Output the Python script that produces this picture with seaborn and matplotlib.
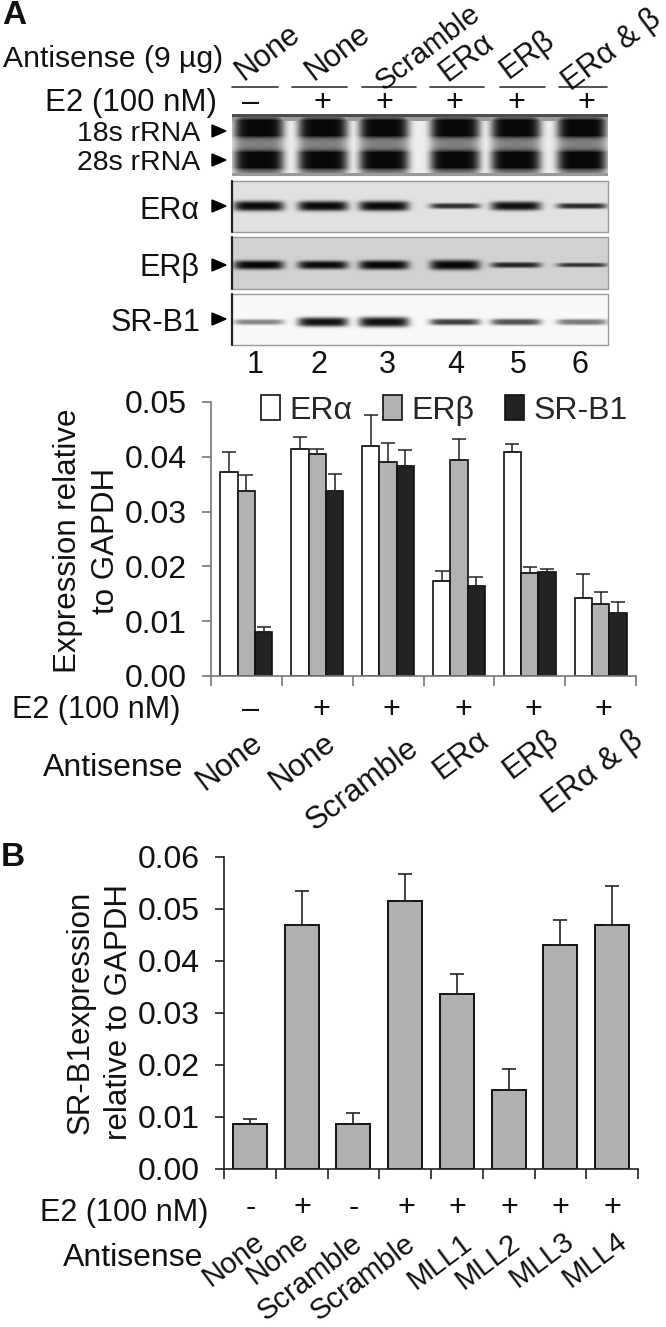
import numpy as np
import pandas as pd
import seaborn as sns
import matplotlib.pyplot as plt
from matplotlib.patches import Polygon

# Panel A values
groups_a = ['None', 'None', 'Scramble', 'ERα', 'ERβ', 'ERα & β']
e2_a = ['–', '+', '+', '+', '+', '+']
era = [0.0372, 0.0415, 0.0419, 0.0174, 0.0408, 0.0143]
era_top = [0.0408, 0.0436, 0.0476, 0.0192, 0.0423, 0.0186]
erb = [0.0338, 0.0405, 0.0390, 0.0394, 0.0188, 0.0131]
erb_top = [0.0366, 0.0415, 0.0426, 0.0433, 0.0199, 0.0153]
srb = [0.0080, 0.0338, 0.0383, 0.0164, 0.0189, 0.0115]
srb_top = [0.0090, 0.0369, 0.0412, 0.0181, 0.0196, 0.0135]

# Panel B values
groups_b = ['None', 'None', 'Scramble', 'Scramble', 'MLL1', 'MLL2', 'MLL3', 'MLL4']
e2_b = ['-', '+', '-', '+', '+', '+', '+', '+']
srb_b = [0.0086, 0.0470, 0.0086, 0.0515, 0.0337, 0.0152, 0.0430, 0.0470]
srb_b_top = [0.0097, 0.0534, 0.0107, 0.0567, 0.0375, 0.0193, 0.0479, 0.0545]

# gel band darkness and half thickness per lane
lanes = [1, 2, 3, 4, 5, 6]
era_band = [0.85, 0.85, 0.85, 0.70, 0.82, 0.72]
era_thick = [5.0, 5.0, 5.0, 2.8, 4.5, 2.8]
erb_band = [0.80, 0.78, 0.80, 0.80, 0.68, 0.62]
erb_thick = [4.5, 4.2, 4.6, 5.0, 2.8, 2.2]
srb_band = [0.45, 0.90, 0.90, 0.72, 0.65, 0.50]
srb_thick = [2.8, 4.6, 5.0, 3.2, 3.2, 3.0]

W, H = 666, 1327
sns.set_style('ticks')
plt.rcParams['font.family'] = ['Liberation Sans', 'DejaVu Sans']
fig = plt.figure(figsize=(W / 100, H / 100), dpi=100)


def px_axes(left, right, top, bottom):
    return fig.add_axes([left / W, 1 - bottom / H, (right - left) / W, (bottom - top) / H])


px = 0.72  # points per pixel at dpi 100
FS = 23

# overlay in pixel coordinates, for text and gels
ov = fig.add_axes([0, 0, 1, 1], zorder=5)
ov.set_xlim(0, W)
ov.set_ylim(H, 0)
ov.axis('off')
ov.patch.set_alpha(0)

colors = {'ERα': '#ffffff', 'ERβ': '#b2b2b2', 'SR-B1': '#232323'}
df_a = pd.DataFrame({
    'group': list(range(6)) * 3,
    'target': ['ERα'] * 6 + ['ERβ'] * 6 + ['SR-B1'] * 6,
    'value': era + erb + srb,
})

ax_a = px_axes(211, 636, 402, 676)
sns.barplot(data=df_a, x='group', y='value', hue='target', palette=colors, width=0.735, gap=0,
            edgecolor='#111111', linewidth=1.2, saturation=1, legend=False, ax=ax_a)
tops = [era_top, erb_top, srb_top]
for cont, top in zip(ax_a.containers, tops):
    for bar, t in zip(cont, top):
        v = bar.get_height()
        ax_a.errorbar(bar.get_x() + bar.get_width() / 2, v, yerr=[[0], [t - v]], color='#222222',
                      elinewidth=1.1, capsize=5.5 * px * 1.3, capthick=1.1, zorder=1, clip_on=False)
ax_a.set_ylim(0, 0.05)
ax_a.set_yticks([0, 0.01, 0.02, 0.03, 0.04, 0.05])
ax_a.set_yticklabels(['0.00', '0.01', '0.02', '0.03', '0.04', '0.05'], fontsize=FS)

ax_b = px_axes(224, 638, 857, 1169)
df_b = pd.DataFrame({'group': list(range(8)), 'value': srb_b})
sns.barplot(data=df_b, x='group', y='value', color='#b0b0b0', width=0.66, edgecolor='#111111',
            linewidth=1.4, saturation=1, ax=ax_b)
for bar, t in zip(ax_b.containers[0], srb_b_top):
    v = bar.get_height()
    ax_b.errorbar(bar.get_x() + bar.get_width() / 2, v, yerr=[[0], [t - v]], color='#222222',
                  elinewidth=1.2, capsize=5.5 * px * 1.3, capthick=1.2, zorder=1)
ax_b.set_ylim(0, 0.06)
ax_b.set_yticks([0, 0.01, 0.02, 0.03, 0.04, 0.05, 0.06])
ax_b.set_yticklabels(['0.00', '0.01', '0.02', '0.03', '0.04', '0.05', '0.06'], fontsize=FS)

for ax, n, col in [(ax_a, 6, '#777777'), (ax_b, 8, '#222222')]:
    ax.set_xlim(-0.5, n - 0.5)
    ax.set_xticks(np.arange(-0.5, n, 1))
    ax.set_xticklabels([])
    ax.set_xlabel('')
    ax.set_ylabel('')
    ax.tick_params(axis='x', length=10 * px, width=1.2, color=col)
    ax.tick_params(axis='y', length=9 * px, width=1.2, color=col, pad=15 * px, labelcolor='#111111')
    sns.despine(ax=ax)
    for s in ['left', 'bottom']:
        ax.spines[s].set_color(col)
        ax.spines[s].set_linewidth(1.2)

# legend of panel A
handles = ax_a.containers
ax_a.legend([c[0] for c in handles], list(colors), loc='upper left', ncols=3, frameon=False,
            bbox_to_anchor=(261, 395), bbox_transform=ov.transData, fontsize=23,
            handlelength=0.6, handleheight=0.85, handletextpad=0.3, columnspacing=0.95,
            borderpad=0, borderaxespad=0)


# gels
lane_x = [259, 323, 384, 455, 516, 582]


def lane_profile(xs, half=25):
    prof = np.zeros_like(xs, dtype=float)
    for cx in lane_x:
        prof = np.maximum(prof, np.exp(-np.abs((xs - cx) / half) ** 6))
    return prof


def draw_gel(left, right, top, bottom, bg, bands, thick, center):
    xs = np.arange(left, right) + 0.5
    ys = np.arange(top, bottom) + 0.5
    img = np.full((len(ys), len(xs)), float(bg))
    for cx, s, th in zip(lane_x, bands, thick):
        xp = np.exp(-np.abs((xs - cx) / 25) ** 6)
        yp = np.exp(-np.abs((ys - center) / th) ** 3)
        img -= s * np.outer(yp, xp)
    ov.imshow(np.clip(img, 0, 1), cmap='gray', vmin=0, vmax=1, aspect='auto',
              extent=(left, right, bottom, top), interpolation='bilinear')
    ov.plot([left, right, right, left], [top, top, bottom, bottom], color='#999999', lw=1.0)
    ov.plot([left, left], [top, bottom], color='#222222', lw=1.6)


# rRNA gel
xs = np.arange(232, 608) + 0.5
ys = np.arange(114, 176) + 0.5
prof = lane_profile(xs)
band = 0.95 * (np.exp(-np.abs((ys - 128) / 8.5) ** 3) + np.exp(-np.abs((ys - 160) / 8.5) ** 3))
rrna = 0.93 - np.outer(np.clip(0.42 + band, 0, 0.9), prof)
rrna[:3, :] = 0.3
rrna[3:7, :] = np.minimum(rrna[3:7, :], 0.6)
rrna[-3:, :] = 0.6
ov.imshow(np.clip(rrna, 0, 1), cmap='gray', vmin=0, vmax=1, aspect='auto',
          extent=(232, 608, 176, 114), interpolation='bilinear')

draw_gel(232, 608, 181, 232, 0.88, era_band, era_thick, 206)
draw_gel(232, 608, 237, 289, 0.82, erb_band, erb_thick, 265)
draw_gel(232, 608, 294, 345, 0.97, srb_band, srb_thick, 322)
ov.set_xlim(0, W)
ov.set_ylim(H, 0)

# arrowheads beside the gels
for y in [131, 160, 206, 265, 319]:
    ov.add_patch(Polygon([(212, y - 6), (212, y + 6), (226, y)], color='black'))


def label(x, y, s, ha='center', rot=0, fs=FS, **kw):
    ov.text(x, y, s, ha=ha, va='center', rotation=rot, rotation_mode='anchor' if rot == 0 else 'default',
            fontsize=fs, color='#111111', **kw)


ROT = 37
# panel A, blot header
label(2, 16, 'A', ha='left', fs=24, fontweight='bold')
label(3, 59, 'Antisense (9 µg)', ha='left', fs=21.7)
for (x, y), s, f in zip([(268, 53), (338, 53), (428, 48), (467, 58), (527, 55), (612, 50)], groups_a,
                        [22, 22, 21, 22, 22, 22]):
    label(x, y, s, rot=ROT, fs=f)
for x0, x1 in [(232, 278), (292, 347), (362, 416), (430, 484), (500, 545), (559, 607)]:
    ov.plot([x0, x1], [87, 87], color='#333333', lw=1.2)
label(217, 103, 'E2 (100 nM)', ha='right', fs=22.5)
for x, s in zip([251, 322, 384, 454, 516, 586], e2_a):
    label(x, 103, s, fs=22)
for y, s, f in [(134, '18s rRNA', 20.5), (163, '28s rRNA', 20.5), (211, 'ERα', 22), (268, 'ERβ', 22),
                (323, 'SR-B1', 22)]:
    label(200, y, s, ha='right', fs=f)
for x, n in zip([255, 319, 387, 456, 518, 580], lanes):
    label(x, 365, str(n), fs=22)

# panel A, chart text
label(68, 541, 'Expression relative', rot=90, fs=22.5)
label(106, 541, 'to GAPDH', rot=90, fs=22.5)
label(180, 710, 'E2 (100 nM)', ha='right', fs=22)
for x, s in zip([251, 321, 391, 463, 533, 603], e2_a):
    label(x, 710, s, fs=22)
label(183, 768, 'Antisense', ha='right', fs=23)
for (x, y), s in zip([(229, 762), (302, 762), (363, 785), (461, 755), (531, 755), (593, 773)], groups_a):
    label(x, y, s, rot=ROT, fs=22.5)

# panel B
label(1, 857, 'B', ha='left', fs=24, fontweight='bold')
label(81, 1012, 'SR-B1expression', rot=90, fs=22.5)
label(119, 1012, 'relative to GAPDH', rot=90, fs=22.5)
label(208, 1213, 'E2 (100 nM)', ha='right', fs=22)
for x, s in zip([251, 302, 354, 406, 457, 509, 560, 612], e2_b):
    label(x, 1208, s, fs=22)
label(203, 1258, 'Antisense', ha='right', fs=23)
for (x, y), s in zip([(234, 1260), (278, 1258), (310, 1278), (363, 1278), (440, 1262), (488, 1262),
                      (542, 1260), (595, 1260)], groups_b):
    label(x, y, s, rot=ROT, fs=21)

fig.savefig('out.png', dpi=100)
